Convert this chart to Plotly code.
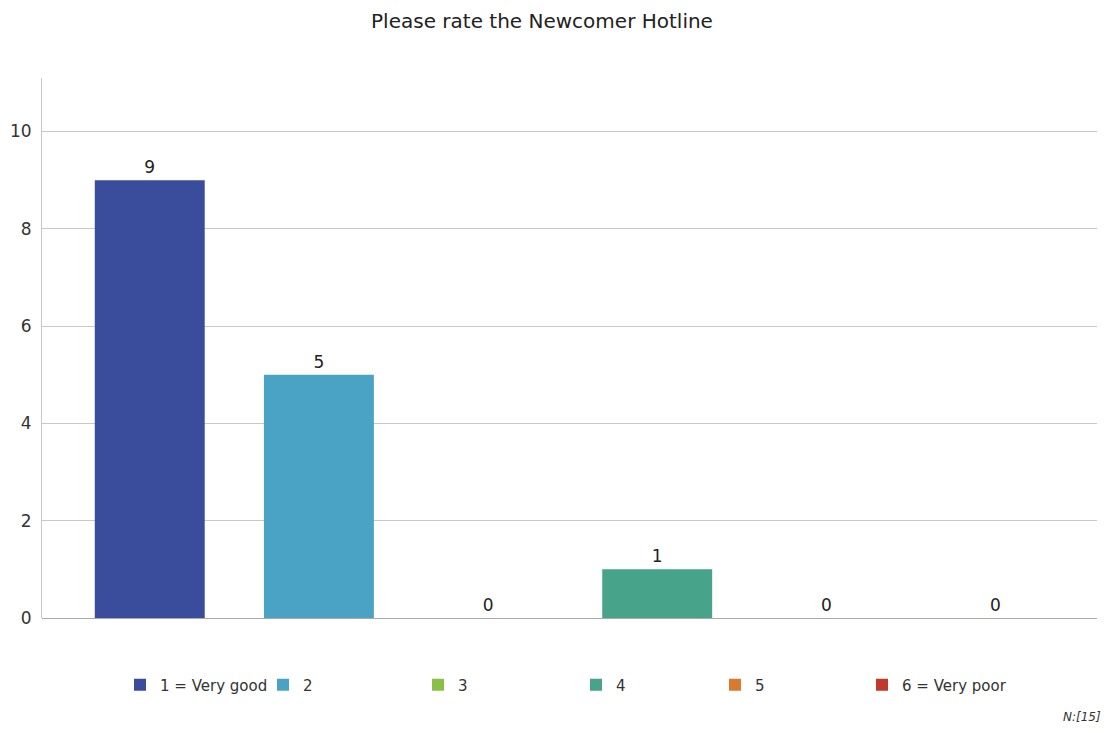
import plotly.graph_objects as go

categories = ["1 = Very good", "2", "3", "4", "5", "6 = Very poor"]
counts = [9, 5, 0, 1, 0, 0]
colors = ["#3A4D9C", "#4AA3C4", "#8CBF45", "#47A38A", "#D97A2E", "#C0392B"]
title_text = "Please rate the Newcomer Hotline"
n_text = "<i>N:[15]</i>"

FONT = "DejaVu Sans, Liberation Sans, Arial, sans-serif"
W, H = 1109, 733
ML, MR, MT, MB = 42, 12, 78, 115
legend_square_x = [134, 277, 432, 590, 729, 876]

fig = go.Figure()
for i, (cat, val, col) in enumerate(zip(categories, counts, colors)):
    lg = "legend" if i == 0 else f"legend{i+1}"
    fig.add_trace(go.Bar(
        x=[i], y=[val], name=cat, marker=dict(color=col, line=dict(width=0)),
        width=0.65, text=[str(val)], textposition="outside",
        textfont=dict(size=17, color="#222222", family=FONT), cliponaxis=False,
        legend=lg, showlegend=True,
    ))

layout_legends = {}
for i in range(6):
    lg = "legend" if i == 0 else f"legend{i+1}"
    layout_legends[lg] = dict(
        x=(legend_square_x[i] - 14) / W, y=(H - 685) / H, xref="container", yref="container",
        xanchor="left", yanchor="middle", orientation="h",
        font=dict(size=15, color="#333333", family=FONT),
        bgcolor="rgba(0,0,0,0)", itemwidth=30, tracegroupgap=0,
    )

pw = W - ML - MR
ph = H - MT - MB
fig.update_layout(
    width=W, height=H,
    paper_bgcolor="white", plot_bgcolor="white",
    margin=dict(l=ML, r=MR, t=MT, b=MB, autoexpand=False),
    barmode="overlay",
    font=dict(family=FONT, size=16, color="#333333"),
    title=dict(text=title_text, x=542 / W, xref="container", xanchor="center",
               y=1 - 21 / H, yref="container", yanchor="middle",
               font=dict(size=20, color="#222222", family=FONT)),
    xaxis=dict(range=[-0.637, 5.6], showticklabels=False, showgrid=False,
               zeroline=False, showline=False, tickvals=[]),
    yaxis=dict(range=[0, 11.1], tickvals=[0, 2, 4, 6, 8, 10], showgrid=True,
               gridcolor="#C8C8C8", gridwidth=1, zeroline=True, zerolinecolor="#AAAAAA",
               zerolinewidth=1, showline=True, linecolor="#C8C8C8", linewidth=1,
               ticks="", ticklabelstandoff=6, automargin=False,
               tickfont=dict(size=17, color="#333333", family=FONT)),
    **layout_legends,
)

fig.add_annotation(text=n_text, x=(1082 - ML) / pw, y=(MT + ph - 717) / ph,
                   xref="paper", yref="paper", xanchor="center", yanchor="middle",
                   showarrow=False, font=dict(size=12, color="#333333", family=FONT))

fig.write_html("out.html", config={"displayModeBar": False})

# remove default browser body margin so the figure sits at the page origin
with open("out.html", "r", encoding="utf-8") as f:
    html = f.read()
html = html.replace("<body>", '<body style="margin:0;padding:0;">', 1)
with open("out.html", "w", encoding="utf-8") as f:
    f.write(html)
